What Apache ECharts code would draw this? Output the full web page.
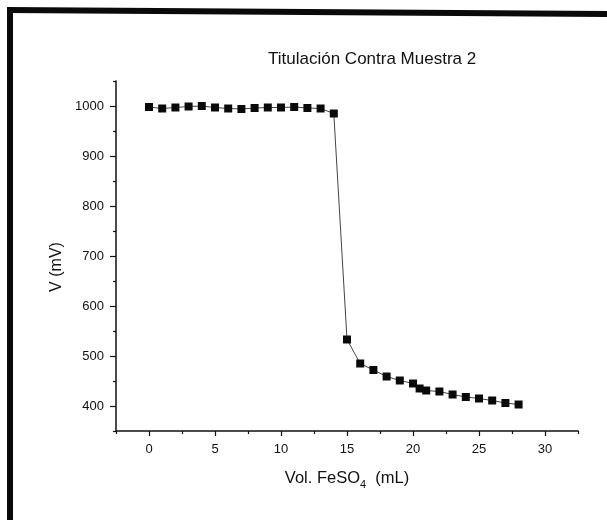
<!DOCTYPE html>
<html>
<head>
<meta charset="utf-8">
<script src="https://cdn.jsdelivr.net/npm/echarts@6/dist/echarts.min.js"></script>
<style>
  html, body { margin: 0; padding: 0; background: #fff; }
  #chart { width: 607px; height: 520px; }
</style>
</head>
<body>
<div id="chart"></div>
<script>
// volumen de FeSO4 agregado (mL) y potencial medido (mV)
const volumes = [0, 1, 2, 3, 4, 5, 6, 7, 8, 9, 10, 11, 12, 13, 14, 15, 16, 17, 18, 19, 20, 20.5, 21, 22, 23, 24, 25, 26, 27, 28]
const potential = [998, 995, 997, 999, 1000, 997, 995, 994, 996, 997, 997, 998, 996, 995, 985, 533, 485, 472, 459, 451, 445, 435, 431, 429, 423, 418, 415, 411, 406, 403]

const xTicks = [0, 5, 10, 15, 20, 25, 30]
const xMinorTicks = [-2.5, 2.5, 7.5, 12.5, 17.5, 22.5, 27.5, 32.5]
const yTicks = [400, 500, 600, 700, 800, 900, 1000]
const yMinorTicks = [350, 450, 550, 650, 750, 850, 950, 1050]

const font = 'Liberation Sans, Arial, sans-serif'
const chart = echarts.init(document.getElementById('chart'))

const option = {
  backgroundColor: '#fff',
  animation: false,
  title: {
    text: 'Titulación Contra Muestra 2',
    left: 268,
    top: 51,
    padding: 0,
    textStyle: { fontFamily: font, fontSize: 17, fontWeight: 'normal', color: '#111' },
  },
  // marco escaneado (borde superior e izquierdo)
  graphic: [
    { type: 'polygon', shape: { points: [[7, 7], [607, 11], [607, 17], [7, 13]] }, style: { fill: '#0a0a0a' } },
    { type: 'rect', shape: { x: 7, y: 7, width: 6, height: 513 }, style: { fill: '#0a0a0a' } },
  ],
  grid: { left: 116, right: 29, top: 81, bottom: 89 },
  xAxis: [
    {
      type: 'value',
      position: 'bottom',
      min: -2.5,
      max: 32.5,
      name: 'Vol. FeSO{sub|4}  (mL)',
      nameLocation: 'middle',
      nameGap: 36,
      nameTextStyle: {
        fontFamily: font,
        fontSize: 16.5,
        color: '#111',
        rich: { sub: { fontFamily: font, fontSize: 11, color: '#111', padding: [12, 0, 0, 0] } },
      },
      splitLine: { show: false },
      axisLine: { onZero: false, lineStyle: { color: '#111', width: 1.5 } },
      axisTick: { customValues: xTicks, length: 5, lineStyle: { color: '#111', width: 1.2 } },
      axisLabel: { customValues: xTicks, margin: 12, fontFamily: font, fontSize: 13, color: '#111', formatter: (v) => String(v) },
    },
    {
      type: 'value',
      position: 'bottom',
      min: -2.5,
      max: 32.5,
      splitLine: { show: false },
      axisLine: { show: false, onZero: false },
      axisTick: { customValues: xMinorTicks, length: 3, lineStyle: { color: '#111', width: 1.2 } },
      axisLabel: { show: false },
    },
  ],
  yAxis: [
    {
      type: 'value',
      position: 'left',
      min: 350,
      max: 1050,
      name: 'V (mV)',
      nameLocation: 'middle',
      nameGap: 51,
      nameTextStyle: { fontFamily: font, fontSize: 16, color: '#111', padding: [0, 22, 0, 0] },
      splitLine: { show: false },
      axisLine: { onZero: false, lineStyle: { color: '#111', width: 1.5 } },
      axisTick: { customValues: yTicks, length: 6, lineStyle: { color: '#111', width: 1.2 } },
      axisLabel: { customValues: yTicks, margin: 12, fontFamily: font, fontSize: 13, color: '#111', formatter: (v) => String(v) },
    },
    {
      type: 'value',
      position: 'left',
      min: 350,
      max: 1050,
      splitLine: { show: false },
      axisLine: { show: false, onZero: false },
      axisTick: { customValues: yMinorTicks, length: 3, lineStyle: { color: '#111', width: 1.2 } },
      axisLabel: { show: false },
    },
  ],
  series: [
    {
      type: 'line',
      xAxisIndex: 0,
      yAxisIndex: 0,
      data: volumes.map((v, i) => [v, potential[i]]),
      symbol: 'rect',
      symbolSize: 8,
      itemStyle: { color: '#0a0a0a' },
      lineStyle: { color: '#444', width: 1 },
    },
  ],
}

chart.setOption(option)
</script>
</body>
</html>
